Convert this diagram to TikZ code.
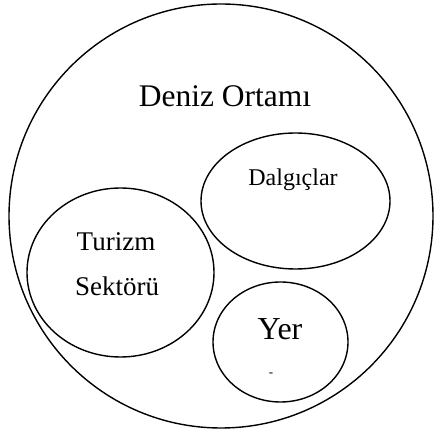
\documentclass[tikz,border=0pt]{standalone}
\usepackage{fontspec}
\setmainfont{Liberation Serif}
\usepackage{tikz}
\usetikzlibrary{positioning}

\tikzset{
  setline/.style={draw=black, line width=1.4pt},
  setlabel/.style={inner sep=0pt, anchor=base}
}

\begin{document}
\begin{tikzpicture}[x=1pt, y=-1pt]
    \useasboundingbox (0,0) rectangle (434,430);

    % outer set and the three inner sets
    \draw[setline] (221,216) circle (212);
    \draw[setline] (295.5,201) ellipse (94.5 and 68);
    \draw[setline] (120.5,272.5) ellipse (93.5 and 84.5);
    \draw[setline] (280.5,342) ellipse (67.5 and 60);

    \node[setlabel, font=\fontsize{31.5}{38}\selectfont] (deniz) at (225,107) {Deniz Ortamı};
    \node[setlabel, font=\fontsize{24}{29}\selectfont] (dalgic) at (293,186) {Dalgıçlar};
    \node[setlabel, font=\fontsize{27}{32}\selectfont] (turizm) at (116,250.5) {Turizm};
    \node[setlabel, font=\fontsize{27}{32}\selectfont] (sektor) at (117,296) {Sektörü};
    \node[setlabel, font=\fontsize{32}{38}\selectfont] (yer) at (280,340) {Yer};
    \node[setlabel, font=\fontsize{13}{15}\selectfont] (tire) at (271,377) {-};
\end{tikzpicture}
\end{document}
